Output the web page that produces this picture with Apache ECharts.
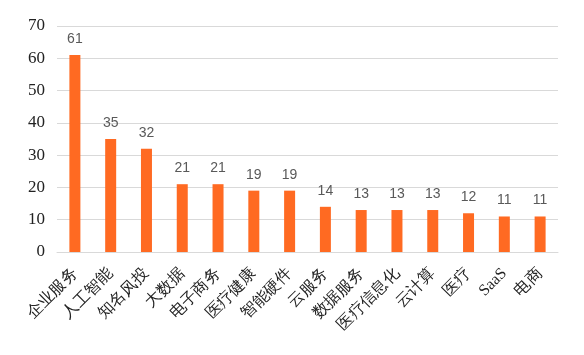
<!DOCTYPE html>
<html>
<head>
<meta charset="utf-8">
<script src="https://cdn.jsdelivr.net/npm/echarts@6/dist/echarts.min.js"></script>
<style>
html,body{margin:0;padding:0;background:#fff;}
#chart{width:584px;height:355px;}
</style>
</head>
<body>
<div id="chart"></div>
<script>
// Investment counts by sector
const categories = ['企业服务','人工智能','知名风投','大数据','电子商务','医疗健康','智能硬件','云服务','数据服务','医疗信息化','云计算','医疗','SaaS','电商'];
const counts = [61, 35, 32, 21, 21, 19, 19, 14, 13, 13, 13, 12, 11, 11];
const yTicks = [0, 10, 20, 30, 40, 50, 60, 70];

const serif = "'Liberation Serif', 'Times New Roman', 'DejaVu Serif', serif";

const chart = echarts.init(document.getElementById('chart'));
chart.setOption({
  animation: false,
  grid: { left: 57, right: 26, top: 26, bottom: 103 },
  xAxis: {
    type: 'category',
    data: categories,
    axisLine: { lineStyle: { color: '#d9d9d9', width: 1 } },
    axisTick: { show: false },
    axisLabel: {
      rotate: 45,
      interval: 0,
      margin: 19,
      color: '#222',
      fontFamily: serif,
      fontSize: 16
    }
  },
  yAxis: {
    type: 'value',
    min: yTicks[0],
    max: yTicks[yTicks.length - 1],
    interval: 10,
    axisLine: { show: false },
    axisTick: { show: false },
    splitLine: { lineStyle: { color: '#d9d9d9', width: 1 } },
    axisLabel: {
      color: '#222',
      margin: 12,
      fontFamily: serif,
      fontSize: 17
    }
  },
  series: [{
    type: 'bar',
    data: counts,
    barWidth: 11,
    itemStyle: { color: '#FF6A22' },
    label: {
      show: true,
      position: 'top',
      distance: 9,
      color: '#595959',
      fontFamily: "'Liberation Sans', sans-serif",
      fontSize: 14
    }
  }]
});
</script>
</body>
</html>
